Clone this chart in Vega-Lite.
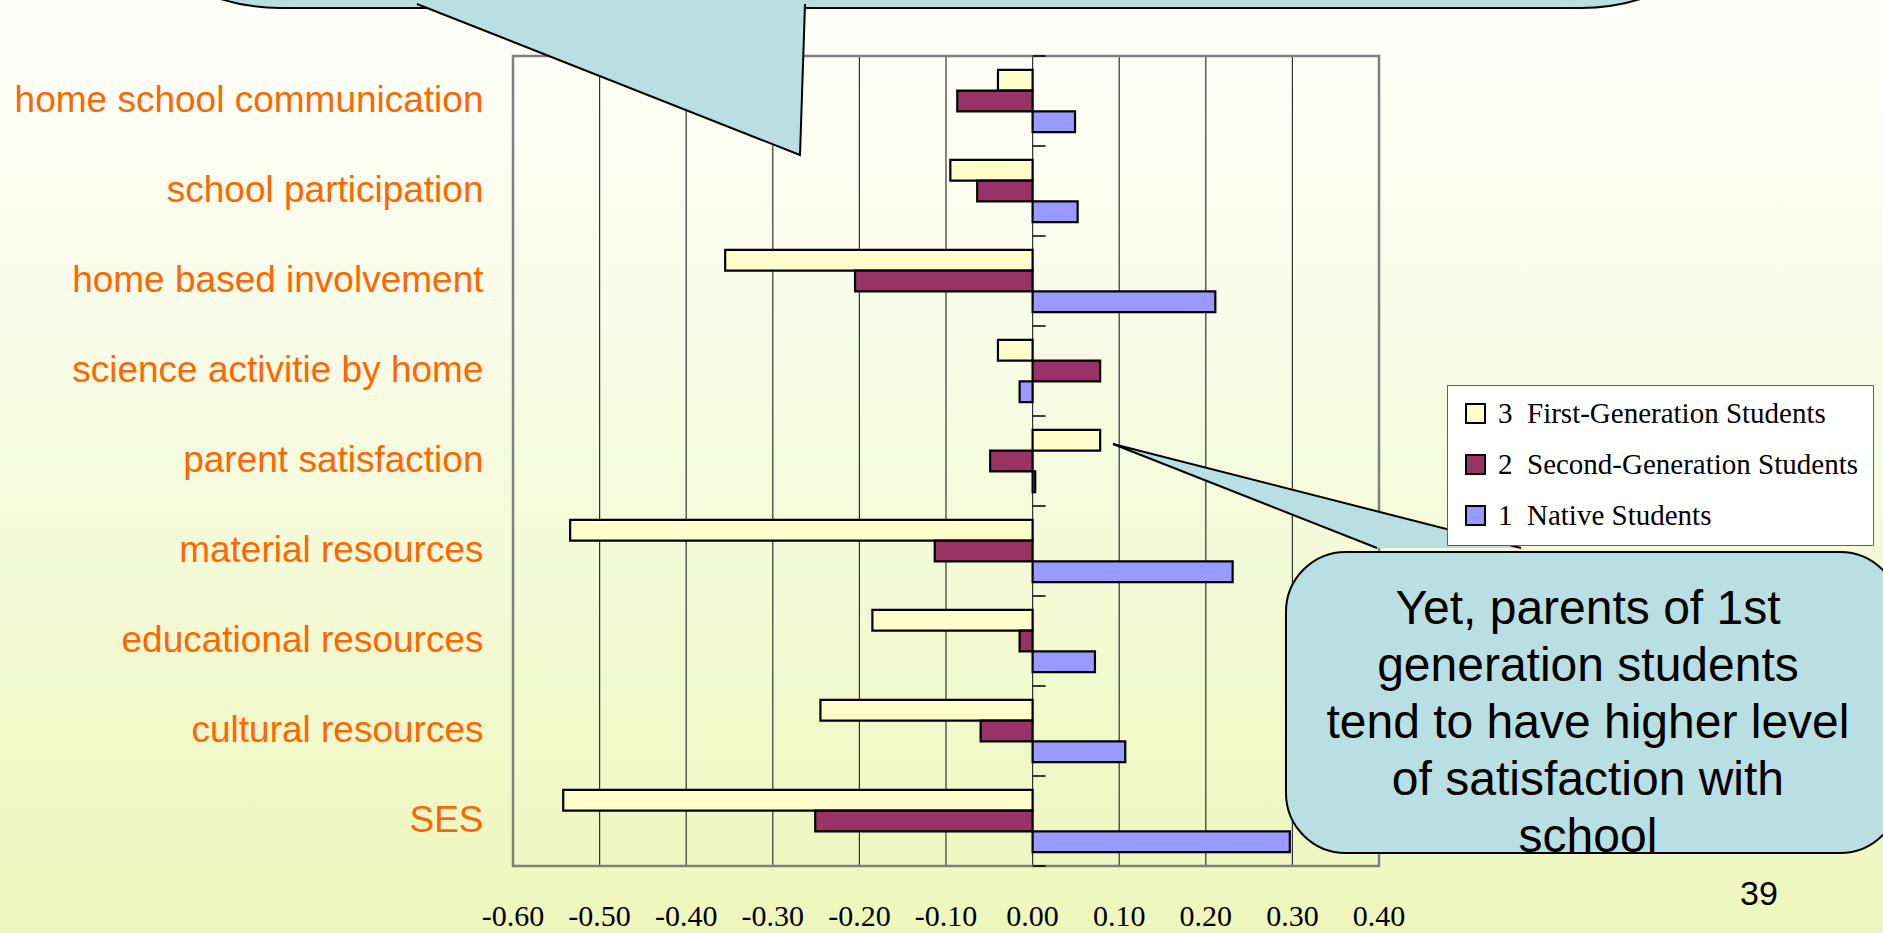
{
  "$schema": "https://vega.github.io/schema/vega-lite/v6.json",
  "width": 866,
  "height": 810,
  "autosize": {"type": "none"},
  "padding": {"left": 513, "top": 56, "right": 504, "bottom": 67},
  "background": "#F3F9D6",
  "config": {
    "view": {"stroke": null},
    "font": "Liberation Sans",
    "axis": {"zindex": 1},
    "locale": {"number": {"decimal": ".", "thousands": ",", "grouping": [3], "currency": ["$", ""], "minus": "-"}}
  },
  "datasets": {
    "scores": [
      {"factor": "home school communication", "group": "3 First-Generation Students", "score": -0.040},
      {"factor": "home school communication", "group": "2 Second-Generation Students", "score": -0.087},
      {"factor": "home school communication", "group": "1 Native Students", "score": 0.049},
      {"factor": "school participation", "group": "3 First-Generation Students", "score": -0.095},
      {"factor": "school participation", "group": "2 Second-Generation Students", "score": -0.064},
      {"factor": "school participation", "group": "1 Native Students", "score": 0.052},
      {"factor": "home based involvement", "group": "3 First-Generation Students", "score": -0.355},
      {"factor": "home based involvement", "group": "2 Second-Generation Students", "score": -0.205},
      {"factor": "home based involvement", "group": "1 Native Students", "score": 0.211},
      {"factor": "science activitie by home", "group": "3 First-Generation Students", "score": -0.040},
      {"factor": "science activitie by home", "group": "2 Second-Generation Students", "score": 0.078},
      {"factor": "science activitie by home", "group": "1 Native Students", "score": -0.015},
      {"factor": "parent satisfaction", "group": "3 First-Generation Students", "score": 0.078},
      {"factor": "parent satisfaction", "group": "2 Second-Generation Students", "score": -0.049},
      {"factor": "parent satisfaction", "group": "1 Native Students", "score": 0.003},
      {"factor": "material resources", "group": "3 First-Generation Students", "score": -0.534},
      {"factor": "material resources", "group": "2 Second-Generation Students", "score": -0.113},
      {"factor": "material resources", "group": "1 Native Students", "score": 0.231},
      {"factor": "educational resources", "group": "3 First-Generation Students", "score": -0.185},
      {"factor": "educational resources", "group": "2 Second-Generation Students", "score": -0.015},
      {"factor": "educational resources", "group": "1 Native Students", "score": 0.072},
      {"factor": "cultural resources", "group": "3 First-Generation Students", "score": -0.245},
      {"factor": "cultural resources", "group": "2 Second-Generation Students", "score": -0.060},
      {"factor": "cultural resources", "group": "1 Native Students", "score": 0.107},
      {"factor": "SES", "group": "3 First-Generation Students", "score": -0.542},
      {"factor": "SES", "group": "2 Second-Generation Students", "score": -0.251},
      {"factor": "SES", "group": "1 Native Students", "score": 0.297}
    ],
    "gridValues": [
      {"v": -0.6}, {"v": -0.5}, {"v": -0.4}, {"v": -0.3}, {"v": -0.2}, {"v": -0.1},
      {"v": 0}, {"v": 0.1}, {"v": 0.2}, {"v": 0.3}, {"v": 0.4}
    ],
    "rowEdges": [
      {"b": 0}, {"b": 1}, {"b": 2}, {"b": 3}, {"b": 4}, {"b": 5}, {"b": 6}, {"b": 7}, {"b": 8}, {"b": 9}
    ],
    "pointers": [
      {"callout": "top", "step": 1, "x": -0.7109, "y": -0.5778},
      {"callout": "top", "step": 2, "x": -0.2686, "y": 1.1},
      {"callout": "top", "step": 3, "x": -0.2628, "y": -0.5778},
      {"callout": "right", "step": 1, "x": 0.3977, "y": 5.4667},
      {"callout": "right", "step": 2, "x": 0.0928, "y": 4.3111},
      {"callout": "right", "step": 3, "x": 0.564, "y": 5.4667}
    ]
  },
  "layer": [
    {
      "data": {"values": [{}]},
      "mark": {
        "type": "rect",
        "clip": false,
        "fill": {
          "gradient": "linear",
          "x1": 0, "y1": 0, "x2": 0, "y2": 1,
          "stops": [
            {"offset": 0, "color": "#FFFFFA"},
            {"offset": 0.35, "color": "#F8FCE8"},
            {"offset": 1, "color": "#EDF7BB"}
          ]
        }
      },
      "encoding": {
        "x": {"datum": -1.21, "type": "quantitative", "scale": {"domain": [-0.6, 0.4], "nice": false}, "axis": null},
        "x2": {"datum": 1.01},
        "y": {"datum": -0.75, "type": "quantitative", "scale": {"domain": [0, 9], "reverse": true, "nice": false, "zero": false}, "axis": null},
        "y2": {"datum": 9.9}
      }
    },
    {
      "data": {"name": "gridValues"},
      "mark": {"type": "rule", "color": "#333333", "strokeWidth": 1.2},
      "encoding": {
        "x": {"field": "v", "type": "quantitative", "scale": {"domain": [-0.6, 0.4], "nice": false}, "axis": null}
      }
    },
    {
      "data": {"values": [{}]},
      "mark": {"type": "rect", "fill": null, "fillOpacity": 0, "stroke": "#7F7F7F", "strokeWidth": 2.5},
      "encoding": {
        "x": {"datum": -0.6, "type": "quantitative", "scale": {"domain": [-0.6, 0.4], "nice": false}, "axis": null},
        "x2": {"datum": 0.4}
      }
    },
    {
      "data": {"name": "scores"},
      "mark": {"type": "bar", "stroke": "#000000", "strokeWidth": 2.2},
      "encoding": {
        "y": {
          "field": "factor",
          "type": "nominal",
          "sort": [
            "home school communication", "school participation", "home based involvement",
            "science activitie by home", "parent satisfaction", "material resources",
            "educational resources", "cultural resources", "SES"
          ],
          "scale": {"paddingInner": 0.31, "paddingOuter": 0.155},
          "axis": {
            "title": null, "ticks": false, "domain": false, "zindex": 1,
            "labelColor": "#FF6600", "labelFont": "Liberation Sans", "labelFontSize": 37,
            "labelPadding": 30, "labelLimit": 0
          }
        },
        "yOffset": {
          "field": "group",
          "sort": ["3 First-Generation Students", "2 Second-Generation Students", "1 Native Students"],
          "scale": {"paddingInner": 0, "paddingOuter": 0}
        },
        "x": {
          "field": "score",
          "type": "quantitative",
          "scale": {"domain": [-0.6, 0.4], "nice": false},
          "axis": null
        },
        "color": {
          "field": "group",
          "type": "nominal",
          "scale": {
            "domain": ["3 First-Generation Students", "2 Second-Generation Students", "1 Native Students"],
            "range": ["#FFFFCC", "#993366", "#9999FF"]
          },
          "legend": {
            "orient": "none", "legendX": 934, "legendY": 329, "title": null,
            "fillColor": "#FFFFFF", "strokeColor": "#606060", "padding": 14,
            "labelFont": "Liberation Serif", "labelFontSize": 29, "labelColor": "#000000",
            "labelLimit": 0, "labelOffset": 8,
            "labelExpr": "replace(datum.label, ' ', '\u00a0\u00a0')",
            "symbolType": "square", "symbolSize": 360, "symbolStrokeColor": "#000000",
            "symbolStrokeWidth": 2, "rowPadding": 21
          }
        }
      }
    },
    {
      "layer": [
        {
          "data": {"values": [{}]},
          "mark": {"type": "rect", "clip": false, "fill": "#B9DFE3", "stroke": "#000000", "strokeWidth": 2, "cornerRadius": 200},
          "encoding": {
            "x": {"datum": -1.1, "type": "quantitative", "scale": {"domain": [-0.6, 0.4], "nice": false}, "axis": null},
            "x2": {"datum": 0.8642},
            "y": {"datum": -5, "type": "quantitative", "scale": {"domain": [0, 9], "reverse": true, "nice": false, "zero": false}, "axis": null},
            "y2": {"datum": -0.5333}
          }
        },
        {
          "data": {"values": [{}]},
          "mark": {"type": "rect", "clip": false, "fill": "#B9DFE3", "stroke": "#000000", "strokeWidth": 2, "cornerRadius": 60},
          "encoding": {
            "x": {"datum": 0.2926, "type": "quantitative", "scale": {"domain": [-0.6, 0.4], "nice": false}, "axis": null},
            "x2": {"datum": 1.0016},
            "y": {"datum": 5.511, "type": "quantitative", "axis": null},
            "y2": {"datum": 8.856}
          }
        },
        {
          "data": {"name": "pointers"},
          "mark": {"type": "line", "clip": false, "fill": "#B9DFE3", "stroke": "#000000", "strokeWidth": 2, "strokeJoin": "miter"},
          "encoding": {
            "x": {"field": "x", "type": "quantitative", "scale": {"domain": [-0.6, 0.4], "nice": false}, "axis": null},
            "y": {"field": "y", "type": "quantitative", "axis": null},
            "detail": {"field": "callout"},
            "order": {"field": "step", "type": "quantitative"}
          }
        },
        {
          "data": {"name": "rowEdges"},
          "mark": {"type": "rule", "color": "#000000", "strokeWidth": 1.5},
          "encoding": {
            "x": {"datum": 0, "type": "quantitative", "scale": {"domain": [-0.6, 0.4], "nice": false}, "axis": null},
            "x2": {"datum": 0.015},
            "y": {"field": "b", "type": "quantitative", "axis": null}
          }
        },
        {
          "data": {"name": "gridValues"},
          "mark": {
            "type": "text", "clip": false, "font": "Liberation Serif", "fontSize": 30,
            "align": "center", "baseline": "bottom", "color": "#000000"
          },
          "encoding": {
            "x": {"field": "v", "type": "quantitative", "scale": {"domain": [-0.6, 0.4], "nice": false}, "axis": null},
            "y": {"datum": 9.733, "type": "quantitative", "axis": null},
            "text": {"field": "v", "type": "quantitative", "format": ".2f"}
          }
        },
        {
          "data": {"values": [{}]},
          "mark": {
            "type": "text", "clip": false, "font": "Liberation Sans", "fontSize": 48, "lineHeight": 57,
            "align": "center", "baseline": "alphabetic", "color": "#000000",
            "text": ["Yet, parents of 1st", "generation students", "tend to have higher level", "of satisfaction with", "school"]
          },
          "encoding": {
            "x": {"datum": 0.6413, "type": "quantitative", "scale": {"domain": [-0.6, 0.4], "nice": false}, "axis": null},
            "y": {"datum": 6.31, "type": "quantitative", "axis": null}
          }
        },
        {
          "data": {"values": [{}]},
          "mark": {
            "type": "text", "clip": false, "font": "Liberation Sans", "fontSize": 34,
            "align": "center", "baseline": "alphabetic", "color": "#000000", "text": "39"
          },
          "encoding": {
            "x": {"datum": 0.8388, "type": "quantitative", "scale": {"domain": [-0.6, 0.4], "nice": false}, "axis": null},
            "y": {"datum": 9.433, "type": "quantitative", "axis": null}
          }
        }
      ]
    }
  ],
  "resolve": {"scale": {"y": "independent"}}
}
